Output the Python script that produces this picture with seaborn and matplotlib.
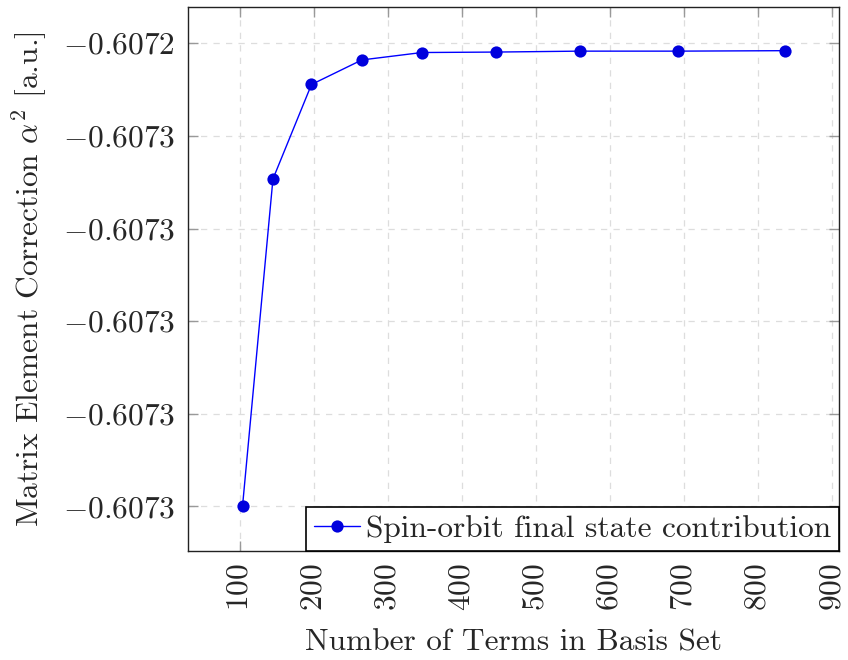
import matplotlib
matplotlib.use("Agg")
import matplotlib.pyplot as plt
import matplotlib.ticker as mticker
import seaborn as sns
import pandas as pd

# Data
n_terms = [104, 145, 197, 265, 346, 446, 559, 692, 836]
correction = [-0.6073398, -0.6072693, -0.6072489, -0.6072436, -0.6072420,
              -0.6072419, -0.6072417, -0.6072417, -0.6072416]
series_label = "Spin-orbit final state contribution"
x_ticks = [100, 200, 300, 400, 500, 600, 700, 800, 900]
y_ticks = [-0.60724, -0.60726, -0.60728, -0.60730, -0.60732, -0.60734]

sns.set_theme(style="whitegrid")
plt.rcParams["font.family"] = ["cmr10", "DejaVu Serif"]
plt.rcParams["mathtext.fontset"] = "cm"
plt.rcParams["axes.formatter.use_mathtext"] = True

FS = 22.6

df = pd.DataFrame({"n": n_terms, "c": correction, "s": series_label})

fig = plt.figure(figsize=(8.48, 6.6), dpi=100)
ax = fig.add_axes([0.2214, 0.1652, 0.7680, 0.8247])

sns.lineplot(data=df, x="n", y="c", hue="s", palette=["#0000ff"], marker="o",
             markersize=8.8, markerfacecolor="#0000dd", markeredgecolor="#0000dd",
             markeredgewidth=0, linewidth=1.0, ax=ax)

ax.set_xlim(30, 909)
ax.set_ylim(-0.6073496, -0.6072321)
ax.set_xticks(x_ticks)
ax.set_yticks(y_ticks)
ax.xaxis.set_major_formatter(mticker.FuncFormatter(lambda v, p: rf"${v:.0f}$"))
ax.yaxis.set_major_formatter(mticker.FuncFormatter(lambda v, p: rf"${v:.4f}$"))

ax.set_facecolor("white")
ax.grid(True, color="#dddddd", linestyle=(0, (5, 5)), linewidth=0.9)
for sp in ax.spines.values():
    sp.set_color("#222222")
    sp.set_linewidth(1.0)

ax.tick_params(axis="both", which="major", direction="in", length=7, width=1.0,
               color="#999999", top=True, right=True, bottom=True, left=True,
               labelsize=FS, pad=9)
ax.tick_params(axis="x", labelrotation=90, pad=9)

ax.set_xlabel("Number of Terms in Basis Set", fontsize=FS, labelpad=13)
ax.set_ylabel(r"Matrix Element Correction $\alpha^2$ [a.u.]", fontsize=FS, labelpad=10)

leg = ax.legend(loc="lower right", borderaxespad=0, fancybox=False, frameon=True,
                edgecolor="black", framealpha=1, fontsize=FS, handlelength=1.45,
                handletextpad=0.2, borderpad=0.25)
leg.get_frame().set_linewidth(1.2)

fig.savefig("out.png", dpi=100)
